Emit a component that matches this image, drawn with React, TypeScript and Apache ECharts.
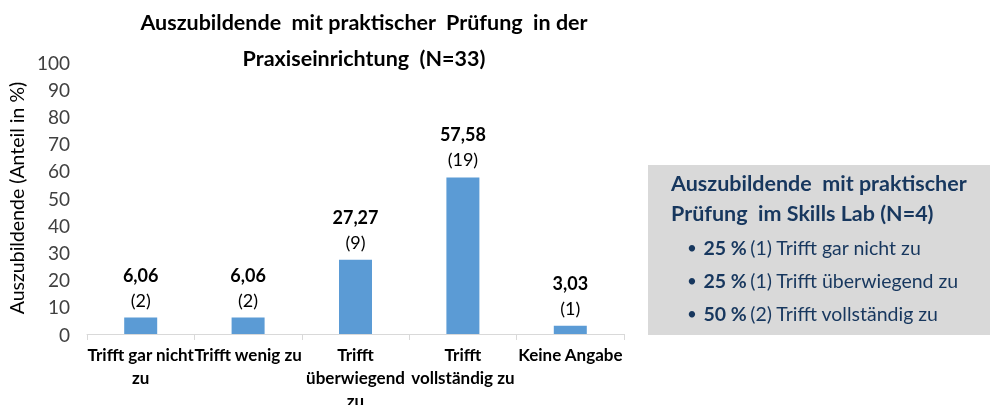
import React, { useEffect, useRef } from "react";
import * as echarts from "echarts";

const categories = ["Trifft gar nicht\nzu", "Trifft wenig zu", "Trifft\nüberwiegend\nzu", "Trifft\nvollständig zu", "Keine Angabe"];
const percentValues = [6.06, 6.06, 27.27, 57.58, 3.03];
const counts = [2, 2, 9, 19, 1];
const titleLines = ["Auszubildende  mit praktischer  Prüfung  in der", "Praxiseinrichtung  (N=33)"];
const boxTitleLines = ["Auszubildende  mit praktischer", "Prüfung  im Skills Lab (N=4)"];
const boxPercents = ["25 %", "25 %", "50 %"];
const boxCounts = [1, 1, 2];
const boxLabels = ["Trifft gar nicht zu", "Trifft überwiegend zu", "Trifft vollständig zu"];

const FONT = "Lato, 'Open Sans', sans-serif";
const BLUE = "#17375e";

export default function App() {
  const ref = useRef<HTMLDivElement>(null);
  useEffect(() => {
    if (!ref.current) return;
    const chart = echarts.init(ref.current, undefined, { renderer: "svg" });
    const fmt = (v: number) => v.toFixed(2).replace(".", ",");
    const graphic: any[] = [];
    titleLines.forEach((t, i) => {
      graphic.push({
        type: "text",
        x: 364,
        y: 22 + i * 36,
        style: { text: t, font: `bold 21.5px ${FONT}`, fill: "#000", align: "center", verticalAlign: "middle" },
      });
    });
    graphic.push({ type: "rect", shape: { x: 648, y: 165, width: 342, height: 170 }, style: { fill: "#d9d9d9" } });
    boxTitleLines.forEach((t, i) => {
      graphic.push({
        type: "text",
        x: 671,
        y: 183 + i * 30,
        style: { text: t, font: `bold 21.5px ${FONT}`, fill: BLUE, align: "left", verticalAlign: "middle" },
      });
    });
    boxLabels.forEach((lab, i) => {
      graphic.push({
        type: "text",
        x: 687,
        y: 247 + i * 33,
        style: {
          text: `{b|•}  {p|${boxPercents[i]}} {t|(${boxCounts[i]}) ${lab}}`,
          align: "left",
          verticalAlign: "middle",
          rich: {
            b: { font: `17px ${FONT}`, fill: BLUE },
            p: { font: `bold 19.5px ${FONT}`, fill: BLUE },
            t: { font: `19.5px ${FONT}`, fill: BLUE },
          },
        },
      });
    });

    chart.setOption({
      animation: false,
      textStyle: { fontFamily: FONT },
      grid: { left: 87, right: 368, top: 62, bottom: 71, containLabel: false, outerBoundsMode: "none" },
      xAxis: {
        type: "category",
        data: categories,
        axisLine: { lineStyle: { color: "#d9d9d9" } },
        axisTick: { show: true, length: 6, lineStyle: { color: "#d9d9d9" } },
        axisLabel: { fontWeight: "bold", fontSize: 17, color: "#000", lineHeight: 23, margin: 9, interval: 0, fontFamily: FONT },
      },
      yAxis: {
        type: "value",
        min: 0,
        max: 100,
        interval: 10,
        splitLine: { show: false },
        axisLine: { show: false },
        axisTick: { show: false },
        axisLabel: { fontSize: 19, color: "#404040", margin: 17, fontFamily: FONT },
        name: "Auszubildende (Anteil in %)",
        nameLocation: "middle",
        nameGap: 60,
        nameTextStyle: { fontSize: 19.5, color: "#000", fontFamily: FONT },
      },
      series: [
        {
          type: "bar",
          data: percentValues,
          barWidth: 33,
          itemStyle: { color: "#5b9bd5" },
          label: {
            show: true,
            position: "top",
            distance: 6,
            formatter: (p: any) => `{v|${fmt(p.value)}}\n{n|(${counts[p.dataIndex]})}`,
            rich: {
              v: { fontWeight: "bold", fontSize: 18, color: "#000", lineHeight: 26, fontFamily: FONT },
              n: { fontSize: 18, color: "#000", lineHeight: 24, fontFamily: FONT },
            },
          },
        },
      ],
      graphic,
    });
    return () => chart.dispose();
  }, []);
  return <div ref={ref} style={{ position: "fixed", left: 0, top: 0, width: 992, height: 405 }} />;
}
